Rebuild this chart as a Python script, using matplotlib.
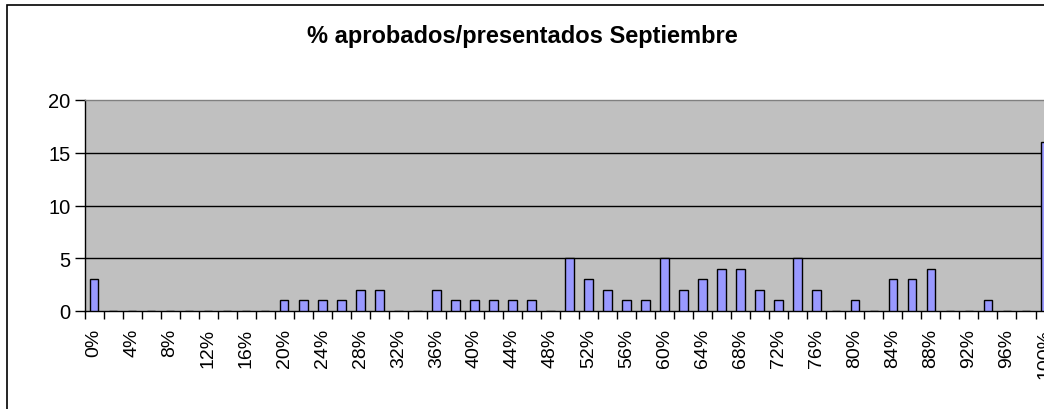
import matplotlib
matplotlib.use("Agg")
import matplotlib.pyplot as plt
from matplotlib.patches import Rectangle
import numpy as np

plt.rcParams['font.family'] = ['Liberation Sans', 'DejaVu Sans']

# percentage categories 0%, 2%, ..., 100%
categories = [f"{p}%" for p in range(0, 101, 2)]
# counts per category (zero elsewhere)
counts = [3, 0, 0, 0, 0, 0, 0, 0, 0, 0,
          1, 1, 1, 1, 2, 2, 0, 0, 2, 1,
          1, 1, 1, 1, 0, 5, 3, 2, 1, 1,
          5, 2, 3, 4, 4, 2, 1, 5, 2, 0,
          1, 0, 3, 3, 4, 0, 0, 1, 0, 0,
          16]
yticks = [0, 5, 10, 15, 20]
title = "% aprobados/presentados Septiembre"

W, H = 1044, 410
fig = plt.figure(figsize=(W / 100, H / 100), dpi=100)
fig.patch.set_facecolor('white')

# chart border (runs off the right and bottom edge like the reference)
fig.patches.append(Rectangle((7 / W, -0.1), 2, (H - 6) / H + 0.1,
                             transform=fig.transFigure, fill=False,
                             edgecolor='black', lw=1.2, zorder=0))

x0, x1 = 84.5, 84.5 + 51 * 19.02
y0, y1 = 312, 101
ax = fig.add_axes([x0 / W, (H - y0) / H, (x1 - x0) / W, (y0 - y1) / H])
ax.set_facecolor('#C0C0C0')

idx = np.arange(len(categories))
ax.bar(idx, counts, width=0.45, color='#9999FF', edgecolor='black',
       linewidth=1, zorder=3)

ax.set_xlim(-0.5, len(categories) - 0.5)
ax.set_ylim(0, 20)

for y in yticks[1:-1]:
    ax.axhline(y, color='black', lw=1, zorder=1)

ax.set_yticks(yticks)
ax.tick_params(axis='y', direction='out', length=7, width=1, pad=3,
               labelsize=14.5, colors='black')

ax.set_xticks(idx[::2])
ax.set_xticklabels(categories[::2], rotation=90, va='top', ha='center')
ax.set_xticks(np.arange(-0.5, len(categories), 1), minor=True)
ax.tick_params(axis='x', which='major', length=0, pad=12, labelsize=14)
ax.tick_params(axis='x', which='minor', direction='out', length=6, width=1)

for s in ['left', 'bottom']:
    ax.spines[s].set_color('black')
    ax.spines[s].set_linewidth(1)
for s in ['top', 'right']:
    ax.spines[s].set_color('#808080')
    ax.spines[s].set_linewidth(1)

fig.text(0.5, (H - 37) / H, title, ha='center', va='center',
         fontsize=17, fontweight='bold')

fig.savefig('out.png', dpi=100)
